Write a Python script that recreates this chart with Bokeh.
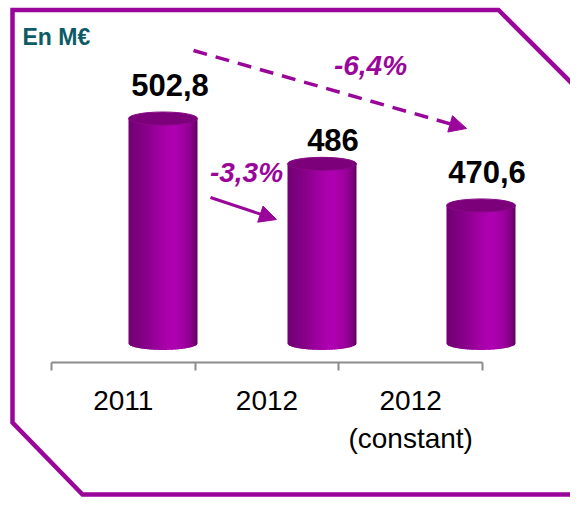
import numpy as np
from bokeh.plotting import figure
from bokeh.models import (Range1d, LinearAxis, FixedTicker, Arrow, NormalHead,
                          ColumnDataSource)
from bokeh.core.properties import value
from bokeh.embed import file_html
from bokeh.resources import INLINE

# ---------------- data ----------------
categories = ["2011", "2012", "2012\n(constant)"]
values = [502.8, 486.0, 470.6]
value_labels = ["502,8", "486", "470,6"]
change_labels = ["-3,3%", "-6,4%"]
unit_label = "En M€"

# ---------------- style / layout ----------------
PURPLE = "#9a069a"
TEAL = "#0d5b66"
AXIS_GREY = "#8c8c8c"
FONT = "Liberation Sans"
W, H = 570, 497

value_base = 419.5          # value where cylinders stand
floor_level = 412.4         # value where category axis is drawn
rx, ry = 0.217, 2.41        # cylinder half width (depth units) / ellipse half height (value units)
label_nudge_x = [7, 11, 6]
label_nudge_y = [-33, -24, -33]

p = figure(width=W, height=H,
           x_range=Range1d(-0.355, 3.6125),
           y_range=Range1d(362.43, 546.5),
           output_backend="svg", toolbar_location=None,
           x_axis_location=None, y_axis_location=None,
           min_border=0, outline_line_color=None,
           background_fill_color="white", border_fill_color="white")
p.min_border_left = p.min_border_right = p.min_border_top = p.min_border_bottom = 0
p.xgrid.visible = False
p.ygrid.visible = False

# perspective-shifted category range for cylinders, and pixel ranges for decoration
p.extra_x_ranges = {"depth": Range1d(-0.522, 3.063), "px_x": Range1d(0, 570)}
p.extra_y_ranges = {"px_y": Range1d(497, 0)}

# ---------------- frame border ----------------
p.line(x=[600, 82, 12, 12, 498, 600], y=[494, 494, 422, 9.5, 9.5, 111.5],
       line_width=4.5, line_color=PURPLE, line_join="miter",
       x_range_name="px_x", y_range_name="px_y")

# ---------------- category axis ----------------
n_cat = len(categories)
ax = LinearAxis(ticker=FixedTicker(ticks=[i + 0.5 for i in range(n_cat)],
                                   minor_ticks=list(range(n_cat + 1))),
                fixed_location=floor_level, bounds=(0, n_cat))
ax.major_label_overrides = {i + 0.5: c for i, c in enumerate(categories)}
ax.axis_line_color = AXIS_GREY
ax.axis_line_width = 2
ax.major_tick_in = 0
ax.major_tick_out = 0
ax.major_tick_line_color = None
ax.minor_tick_in = 0
ax.minor_tick_out = 8
ax.minor_tick_line_color = AXIS_GREY
ax.minor_tick_line_width = 2
ax.major_label_text_font = FONT
ax.major_label_text_font_size = "28px"
ax.major_label_text_color = "black"
ax.major_label_text_line_height = 1.25
ax.major_label_standoff = 14
p.add_layout(ax, "below")

# ---------------- cylinders ----------------
def shade(u):
    I = np.interp(u, [-1, -0.6, 0.1, 0.35, 0.75, 0.92, 1],
                  [0.64, 0.74, 0.97, 1.0, 0.84, 0.66, 0.52])
    r = int(round(176 * I))
    b = int(round(178 * I))
    return f"#{r:02x}00{b:02x}"

n_strip = 40
u_edges = np.linspace(-1, 1, n_strip + 1)
step = u_edges[1] - u_edges[0]
xs, ys, cols = [], [], []
for i, v in enumerate(values):
    cx = i + 0.5
    for k in range(n_strip):
        u0 = u_edges[k]
        u1 = min(u_edges[k + 1] + 0.6 * step, 1.0)   # overlap to hide seams
        us = np.linspace(u0, u1, 5)
        bottom = value_base - ry * np.sqrt(np.clip(1 - us ** 2, 0, None))
        xs.append(list(cx + rx * us) + [cx + rx * u1, cx + rx * u0])
        ys.append(list(bottom) + [v, v])
        cols.append(shade(u_edges[k] + step / 2))
p.patches(xs, ys, fill_color=cols, line_color=None, x_range_name="depth")

tops = ColumnDataSource(dict(x=[i + 0.5 for i in range(n_cat)], y=values,
                             label=value_labels, dx=label_nudge_x, dy=label_nudge_y))
p.ellipse(x="x", y="y", width=2 * rx, height=2 * ry, source=tops,
          fill_color="#7b0079", line_color="#880886", line_width=1,
          x_range_name="depth")

# value labels
p.text(x="x", y="y", text="label", source=tops, x_range_name="depth",
       x_offset="dx", y_offset="dy", text_align="center", text_baseline="alphabetic",
       text_font=value(FONT), text_font_style="bold", text_font_size="31px",
       text_color="black")

# ---------------- change arrows & labels ----------------
p.text(x=[246, 370], y=[172, 65], text=change_labels,
       x_range_name="px_x", y_range_name="px_y",
       text_align="center", text_baseline="alphabetic",
       text_font=value(FONT), text_font_style="bold italic",
       text_font_size="28px", text_color=PURPLE)

p.add_layout(Arrow(x_start=210, y_start=197, x_end=276, y_end=219,
                   line_width=3, line_color=PURPLE,
                   end=NormalHead(size=17, fill_color=PURPLE, line_color=PURPLE),
                   x_range_name="px_x", y_range_name="px_y"))
p.add_layout(Arrow(x_start=193, y_start=50, x_end=466, y_end=128,
                   line_width=3.5, line_color=PURPLE, line_dash="14 9",
                   end=NormalHead(size=17, fill_color=PURPLE, line_color=PURPLE),
                   x_range_name="px_x", y_range_name="px_y"))

# unit label
p.text(x=[22], y=[36], text=[unit_label], x_range_name="px_x", y_range_name="px_y",
       text_align="left", text_baseline="alphabetic",
       text_font=value(FONT), text_font_style="bold", text_font_size="23px",
       text_color=TEAL)

open("out.html", "w").write(file_html(p, INLINE))
